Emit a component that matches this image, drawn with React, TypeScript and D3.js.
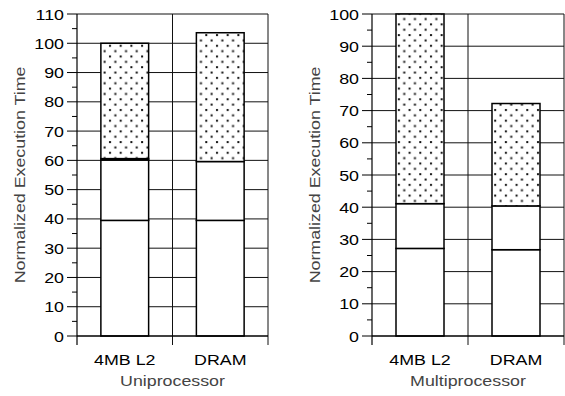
import React, { useRef, useEffect } from "react";
import { select, scaleBand, scaleLinear, stack, range } from "d3";

// categories shared by both panels
const categories = ["4MB L2", "DRAM"];

// uniprocessor segments (bottom to top)
const uniBase = [39.5, 39.5];
const uniMid = [20.6, 20.1];
const uniThin = [0.5, 0];
const uniTop = [39.4, 44.0];

// multiprocessor segments (bottom to top)
const mpBase = [27.2, 26.8];
const mpMid = [13.9, 13.6];
const mpThin = [0, 0];
const mpTop = [58.9, 31.8];

const seriesKeys = ["base", "mid", "thin", "top"];

const yLabel = "Normalized Execution Time";
const FONT = "'Liberation Sans', Arial, sans-serif";
const FS = 15.5;
const SX = 1.15; // glyphs in the source look a bit wide

function buildRows(values: number[][]) {
  return categories.map((c, i) => {
    const row: any = { cat: c };
    seriesKeys.forEach((k, j) => (row[k] = values[j][i]));
    return row;
  });
}

const panels = [
  { title: "Uniprocessor", yMax: 110, x0: 77, x1: 268, rows: buildRows([uniBase, uniMid, uniThin, uniTop]) },
  { title: "Multiprocessor", yMax: 100, x0: 372, x1: 564, rows: buildRows([mpBase, mpMid, mpThin, mpTop]) },
];

const TOP = 14;
const BOTTOM = 336;

function addText(g: any, x: number, y: number, str: string, anchor: string, fill: string, rotate = 0, dy = "0") {
  g.append("text")
    .attr("transform", `translate(${x},${y}) rotate(${rotate}) scale(${SX},1)`)
    .attr("text-anchor", anchor)
    .attr("dy", dy)
    .attr("font-family", FONT)
    .attr("font-size", FS)
    .attr("fill", fill)
    .text(str);
}

function App() {
  const svgRef = useRef<SVGSVGElement>(null);

  useEffect(() => {
    const svg = select(svgRef.current);
    svg.selectAll("*").remove();

    // dotted fill for the top segment
    const pat = svg
      .append("defs")
      .append("pattern")
      .attr("id", "dots")
      .attr("patternUnits", "userSpaceOnUse")
      .attr("width", 10.7)
      .attr("height", 10.7);
    pat.append("rect").attr("width", 10.7).attr("height", 10.7).attr("fill", "#fff");
    pat.append("rect").attr("x", 2).attr("y", 2).attr("width", 2).attr("height", 2).attr("fill", "#111");
    pat.append("rect").attr("x", 7.35).attr("y", 7.35).attr("width", 2).attr("height", 2).attr("fill", "#111");

    const fills: Record<string, string> = { base: "#fff", mid: "#fff", thin: "#fff", top: "url(#dots)" };

    panels.forEach((p) => {
      const g = svg.append("g");
      const x = scaleBand().domain(categories).range([p.x0, p.x1]).paddingInner(0).paddingOuter(0);
      const y = scaleLinear().domain([0, p.yMax]).range([BOTTOM, TOP]);
      const majors = range(0, p.yMax + 1, 10);
      const minors = range(5, p.yMax, 10);

      // horizontal gridlines
      g.selectAll(".grid")
        .data(majors.filter((d) => d > 0))
        .join("line")
        .attr("x1", p.x0)
        .attr("x2", p.x1)
        .attr("y1", (d) => y(d))
        .attr("y2", (d) => y(d))
        .attr("stroke", "#111")
        .attr("stroke-width", 1);

      // vertical separators at band edges
      const edges = categories.map((c) => (x(c) as number) + x.bandwidth());
      g.selectAll(".vgrid")
        .data(edges)
        .join("line")
        .attr("x1", (d) => d)
        .attr("x2", (d) => d)
        .attr("y1", TOP)
        .attr("y2", BOTTOM + 9)
        .attr("stroke", "#111")
        .attr("stroke-width", 1);

      // stacked bars
      const stacked = stack().keys(seriesKeys)(p.rows as any);
      const barW = x.bandwidth() * 0.5;
      stacked.forEach((layer: any) => {
        g.selectAll(".bar-" + layer.key)
          .data(layer.filter((d: any) => d[1] - d[0] > 0))
          .join("rect")
          .attr("x", (d: any) => (x(d.data.cat) as number) + (x.bandwidth() - barW) / 2)
          .attr("y", (d: any) => y(d[1]))
          .attr("width", barW)
          .attr("height", (d: any) => y(d[0]) - y(d[1]))
          .attr("fill", fills[layer.key])
          .attr("stroke", "#000")
          .attr("stroke-width", 1.5);
      });

      // y axis line and bottom line
      g.append("line").attr("x1", p.x0).attr("x2", p.x0).attr("y1", TOP).attr("y2", BOTTOM + 9).attr("stroke", "#000").attr("stroke-width", 1.2);
      g.append("line").attr("x1", p.x0).attr("x2", p.x1).attr("y1", BOTTOM).attr("y2", BOTTOM).attr("stroke", "#000").attr("stroke-width", 1.5);

      // y ticks
      g.selectAll(".maj")
        .data(majors)
        .join("line")
        .attr("x1", p.x0 - 10)
        .attr("x2", p.x0)
        .attr("y1", (d) => y(d))
        .attr("y2", (d) => y(d))
        .attr("stroke", "#000");
      g.selectAll(".min")
        .data(minors)
        .join("line")
        .attr("x1", p.x0 - 5)
        .attr("x2", p.x0)
        .attr("y1", (d) => y(d))
        .attr("y2", (d) => y(d))
        .attr("stroke", "#000");
      majors.forEach((d) => addText(g, p.x0 - 13, y(d), String(d), "end", "#000", 0, "0.36em"));

      // category labels and titles
      categories.forEach((c) => addText(g, (x(c) as number) + x.bandwidth() / 2, 365, c, "middle", "#000"));
      addText(g, (p.x0 + p.x1) / 2, 386, p.title, "middle", "#444");
      addText(g, p.x0 - 52, (TOP + BOTTOM) / 2, yLabel, "middle", "#444", -90);
    });
  }, []);

  return (
    <div style={{ position: "absolute", left: 0, top: 0 }}>
      <svg ref={svgRef} width={565} height={396} style={{ display: "block", background: "#fff" }} />
    </div>
  );
}

export default App;
